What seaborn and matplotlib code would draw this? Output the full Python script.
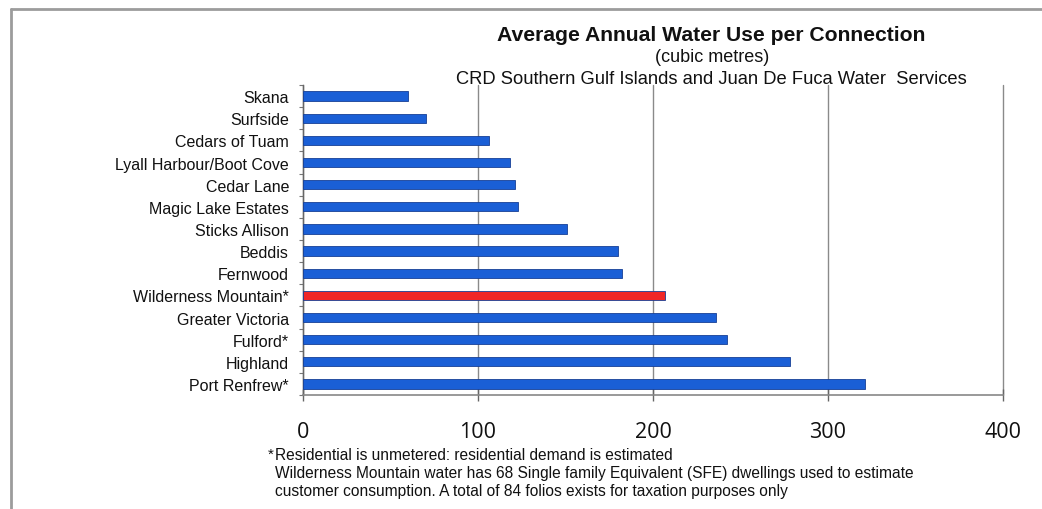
import matplotlib
matplotlib.use("Agg")
import matplotlib.pyplot as plt
from matplotlib.lines import Line2D
from matplotlib.ticker import FixedLocator
import seaborn as sns
import pandas as pd

# Water services and their average annual use per connection (m³)
services = [
    "Skana", "Surfside", "Cedars of Tuam", "Lyall Harbour/Boot Cove",
    "Cedar Lane", "Magic Lake Estates", "Sticks Allison", "Beddis",
    "Fernwood", "Wilderness Mountain*", "Greater Victoria", "Fulford*",
    "Highland", "Port Renfrew*",
]
usage = [60, 70, 106, 118, 121, 123, 151, 180, 182, 207, 236, 242, 278, 321]
highlight = "Wilderness Mountain*"
x_ticks = [0, 100, 200, 300, 400]

title = "Average Annual Water Use per Connection"
subtitle = "(cubic metres)"
region = "CRD Southern Gulf Islands and Juan De Fuca Water  Services"
notes = [
    "Residential is unmetered: residential demand is estimated",
    "Wilderness Mountain water has 68 Single family Equivalent (SFE) dwellings used to estimate",
    "customer consumption. A total of 84 folios exists for taxation purposes only",
]

BLUE = "#1a5fd6"
RED = "#f02626"

df = pd.DataFrame({"service": services, "usage": usage})
df["group"] = ["hi" if s == highlight else "std" for s in services]

sns.set_theme(style="white")
plt.rcParams["font.family"] = ["Liberation Sans", "DejaVu Sans"]

fig = plt.figure(figsize=(10.42, 5.10), dpi=100)
ax = fig.add_axes([0.2908, 0.2235, 0.6718, 0.6078])

sns.barplot(
    data=df, x="usage", y="service", hue="group",
    palette={"std": BLUE, "hi": RED}, saturation=1, orient="h", width=0.42,
    dodge=False, legend=False, edgecolor="#163f96", linewidth=0.6,
    ax=ax, zorder=3,
)

ax.set_xlim(0, 400)
ax.set_ylim(len(services) - 0.5, -0.5)
ax.set_xlabel("")
ax.set_ylabel("")

# vertical gridlines
ax.set_xticks(x_ticks)
ax.set_xticklabels([str(v) for v in x_ticks], fontsize=15.5,
                   fontfamily="Open Sans", color="#111111")
ax.xaxis.grid(True, color="#8a8a8a", linewidth=1.0, zorder=0)
for gl in ax.get_xgridlines():
    gl.set_clip_on(False)
ax.yaxis.grid(False)

# category labels, with small ticks between categories
ax.set_yticks(range(len(services)))
ax.set_yticklabels(services, fontsize=11.5, color="#111111")
ax.yaxis.set_minor_locator(FixedLocator([i + 0.5 for i in range(-1, len(services))]))
ax.tick_params(axis="y", which="major", length=0, pad=10)
ax.tick_params(axis="y", which="minor", left=True, length=3, width=0.8, color="#777777")
ax.tick_params(axis="x", which="major", bottom=True, direction="inout",
               length=9, width=1, color="#666666", pad=14)

for side in ["top", "right"]:
    ax.spines[side].set_visible(False)
ax.spines["left"].set_color("#666666")
ax.spines["left"].set_linewidth(1.0)
ax.spines["bottom"].set_color("#888888")
ax.spines["bottom"].set_linewidth(1.2)

# titles
fig.text(0.683, 0.931, title, ha="center", va="center",
         fontsize=15.2, fontweight="bold", color="#111111")
fig.text(0.683, 0.888, subtitle, ha="center", va="center",
         fontsize=13, color="#111111")
fig.text(0.683, 0.845, region, ha="center", va="center",
         fontsize=13.2, color="#111111")

# footnotes
note_top = 0.1078
fig.text(0.257, note_top, "*", ha="left", va="center", fontsize=11, color="#111111")
for i, line in enumerate(notes):
    fig.text(0.264, note_top - i * 0.0353, line, ha="left", va="center",
             fontsize=11.2, color="#111111")

# surrounding frame
frame_kw = dict(color="#9c9c9c", linewidth=2, transform=fig.transFigure)
fig.add_artist(Line2D([0.0106, 1.0], [0.9804, 0.9804], **frame_kw))
fig.add_artist(Line2D([0.0106, 0.0106], [0.0, 0.9804], **frame_kw))

fig.savefig("out.png", dpi=100, facecolor="white")
